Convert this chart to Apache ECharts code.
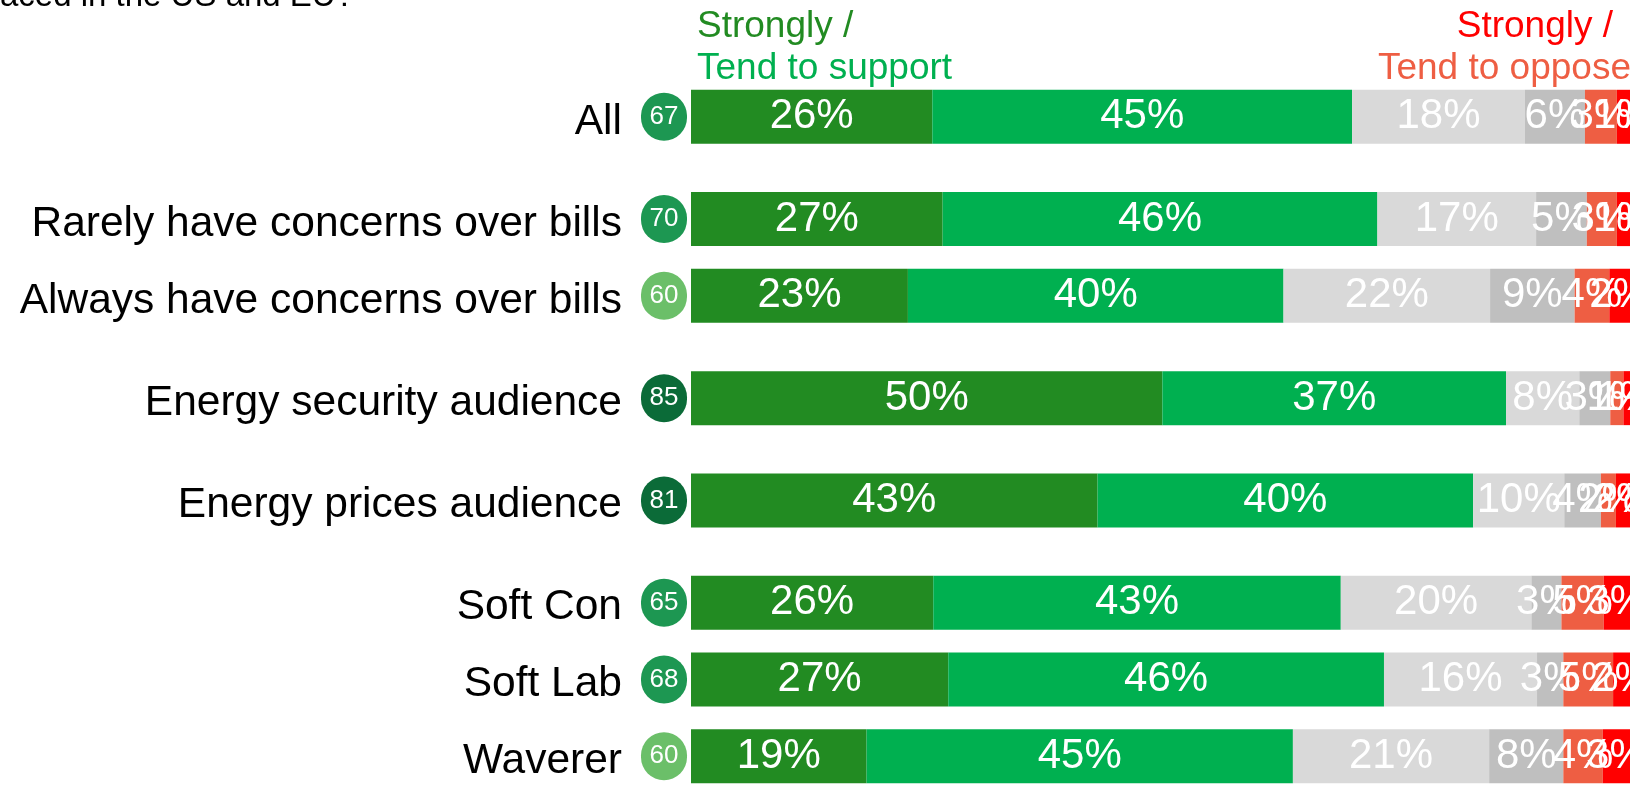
<!DOCTYPE html>
<html>
<head>
<meta charset="utf-8">
<script src="https://cdn.jsdelivr.net/npm/echarts@6/dist/echarts.min.js"></script>
<style>
  html, body { margin: 0; padding: 0; background: #fff; }
  #chart { width: 1637px; height: 785px; }
</style>
</head>
<body>
<div id="chart"></div>
<script>
// rows, grouped the way the reference spaces them
var groups = [
  ['All'],
  ['Rarely have concerns over bills', 'Always have concerns over bills'],
  ['Energy security audience'],
  ['Energy prices audience'],
  ['Soft Con', 'Soft Lab', 'Waverer']
];
// net score in the badge
var scores = [67, 70, 60, 85, 81, 65, 68, 60];

// shares (%) per answer, same row order as above
var stronglySupport = [25.7, 26.8, 23.1, 50.2, 43.3, 25.8, 27.4, 18.7];
var tendSupport     = [44.7, 46.3, 40.0, 36.6, 40.0, 43.4, 46.4, 45.4];
var neither         = [18.4, 16.9, 22.0,  7.8,  9.7, 20.3, 16.3, 20.9];
var dontKnow        = [ 6.4,  5.4,  9.0,  3.3,  3.9,  3.2,  2.8,  7.9];
var tendOppose      = [ 3.4,  3.2,  3.7,  1.4,  1.6,  4.5,  5.3,  4.2];
var stronglyOppose  = [ 1.4,  1.4,  2.2,  0.7,  1.5,  2.8,  1.8,  2.9];

var seriesNames = ['Strongly support', 'Tend to support', 'Neither', "Don't know", 'Tend to oppose', 'Strongly oppose'];
var seriesData = [stronglySupport, tendSupport, neither, dontKnow, tendOppose, stronglyOppose];
var seriesColors = ['#228B22', '#00B050', '#D9D9D9', '#BFBFBF', '#EE5E43', '#FF0000'];

// badge colour by score
function badgeStyle(s) {
  if (s >= 80) return 'hi';
  if (s >= 65) return 'mid';
  return 'lo';
}

// build category slots: 3 slots per row, one extra between groups
var cats = [];
var rowSlot = [];
var blank = 0;
groups.forEach(function (g, gi) {
  g.forEach(function (name, ni) {
    rowSlot.push(cats.length);
    cats.push(name);
    var last = (gi == groups.length - 1 && ni == g.length - 1);
    if (!last) {
      cats.push('_' + (blank++));
      cats.push('_' + (blank++));
    }
  });
  if (gi < groups.length - 1) cats.push('_' + (blank++));
});

function slotData(arr) {
  var out = cats.map(function () { return '-'; });
  for (var i = 0; i < arr.length; i++) out[rowSlot[i]] = arr[i];
  return out;
}

var font = 'Liberation Sans, Arial, sans-serif';
var badge = { width: 46, height: 48, lineHeight: 48, borderRadius: 24, align: 'center', color: '#fff', fontSize: 26, fontFamily: 'Liberation Sans Narrow, ' + font };

var chart = echarts.init(document.getElementById('chart'));
chart.setOption({
  animation: false,
  grid: { left: 691, right: 7, top: 104, bottom: 16 },
  xAxis: { type: 'value', min: 0, max: 100, show: false },
  yAxis: {
    type: 'category',
    inverse: true,
    data: cats,
    axisLine: { show: false },
    axisTick: { show: false },
    axisLabel: {
      interval: 0,
      margin: 4,
      formatter: function (value) {
        if (value.charAt(0) == '_') return '';
        var i = rowSlot.indexOf(cats.indexOf(value));
        return '{t|' + value + '}{g|}{' + badgeStyle(scores[i]) + '|' + scores[i] + '}';
      },
      rich: {
        t: { fontSize: 42.5, color: '#000', fontFamily: font, padding: [10, 0, 0, 0] },
        g: { width: 19 },
        hi:  Object.assign({ backgroundColor: '#0B6B38' }, badge),
        mid: Object.assign({ backgroundColor: '#1D9752' }, badge),
        lo:  Object.assign({ backgroundColor: '#6BBF69' }, badge)
      }
    }
  },
  graphic: [
    { type: 'text', left: 0, top: -20, style: { text: 'aced in the US and EU?', font: '33px ' + font, fill: '#000' } },
    { type: 'text', x: 697, y: 27, style: { text: 'Strongly /', font: '37px ' + font, fill: '#228B22', textVerticalAlign: 'middle' } },
    { type: 'text', x: 697, y: 69, style: { text: 'Tend to support', font: '37px ' + font, fill: '#00B050', textVerticalAlign: 'middle' } },
    { type: 'text', x: 1613, y: 27, style: { text: 'Strongly /', font: '37px ' + font, fill: '#FF0000', textAlign: 'right', textVerticalAlign: 'middle' } },
    { type: 'text', x: 1631, y: 69, style: { text: 'Tend to oppose', font: '37px ' + font, fill: '#EE5E43', textAlign: 'right', textVerticalAlign: 'middle' } }
  ],
  series: seriesData.map(function (d, k) {
    return {
      name: seriesNames[k],
      type: 'bar',
      stack: 'total',
      barWidth: 54,
      clip: false,
      itemStyle: { color: seriesColors[k] },
      label: {
        show: true,
        position: 'inside',
        offset: [0, 4],
        color: '#fff',
        fontSize: 42,
        fontFamily: font,
        overflow: 'none',
        textBorderWidth: 0,
        formatter: function (p) { return Math.round(p.value) + '%'; }
      },
      labelLayout: { hideOverlap: false },
      data: slotData(d)
    };
  })
});
</script>
</body>
</html>
